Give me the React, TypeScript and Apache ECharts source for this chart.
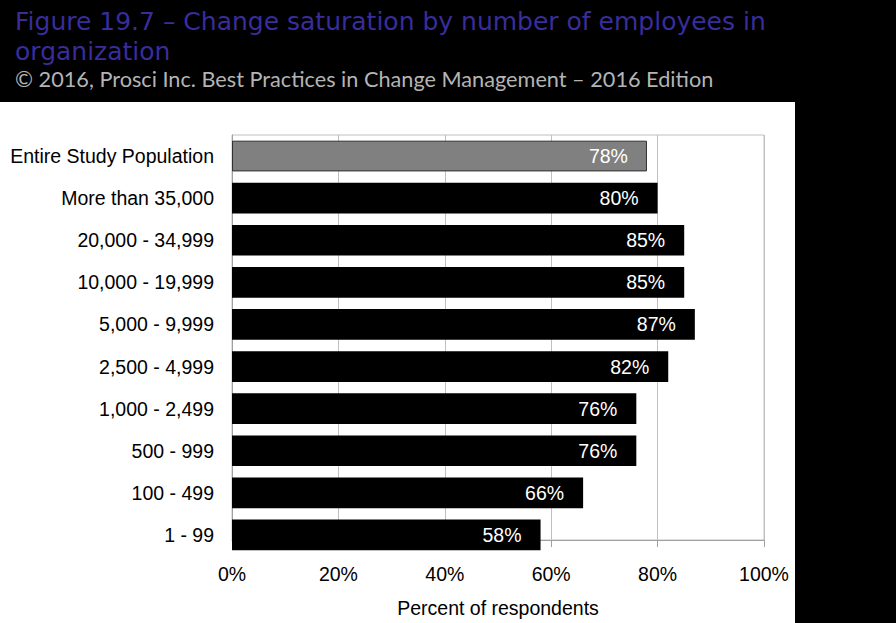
import React, { useEffect, useRef } from "react";
import * as echarts from "echarts";

const categories = [
  "Entire Study Population",
  "More than 35,000",
  "20,000 - 34,999",
  "10,000 - 19,999",
  "5,000 - 9,999",
  "2,500 - 4,999",
  "1,000 - 2,499",
  "500 - 999",
  "100 - 499",
  "1 - 99",
];
const values = [78, 80, 85, 85, 87, 82, 76, 76, 66, 58];
const titleLines = ["Figure 19.7 \u2013 Change saturation by number of employees in", "organization"];
const subtitle = "\u00a9 2016, Prosci Inc. Best Practices in Change Management \u2013 2016 Edition";
const axisName = "Percent of respondents";
const xTicks = { min: 0, max: 100, interval: 20 };

const FONT = "'Liberation Sans', Arial";

export default function App() {
  const ref = useRef<HTMLDivElement>(null);
  useEffect(() => {
    document.body.style.margin = "0";
    const chart = echarts.init(ref.current!, null, { renderer: "svg" });
    chart.setOption({
      animation: false,
      backgroundColor: "#ffffff",
      graphic: [
        { type: "rect", left: 0, top: 0, shape: { width: 896, height: 102 }, style: { fill: "#000" }, z: -1 },
        { type: "rect", left: 795, top: 0, shape: { width: 101, height: 623 }, style: { fill: "#000" }, z: -1 },
        {
          type: "text", left: 15, top: 6,
          style: { text: titleLines.join("\n"), fill: "#392d9c", font: "25px 'DejaVu Sans'", lineHeight: 30 },
        },
        {
          type: "text", left: 15, top: 68,
          style: { text: subtitle, fill: "#b4b4b4", font: "21.7px Lato" },
        },
      ],
      grid: [
        // frame / value axis grid
        { left: 232, right: 132, top: 135, bottom: 73, show: true, borderColor: "#c0c0c0", borderWidth: 1 },
        // bars grid (bands slightly taller, as in the original)
        { left: 232, right: 132, top: 135, bottom: 67 },
      ],
      xAxis: [
        {
          type: "value", gridIndex: 0, ...xTicks,
          axisLabel: { formatter: "{value}%", color: "#000", fontSize: 19.5, fontFamily: FONT, margin: 24 },
          axisLine: { show: true, lineStyle: { color: "#a0a0a0" } },
          axisTick: { show: true, length: 7, lineStyle: { color: "#a0a0a0" } },
          splitLine: { show: true, lineStyle: { color: "#c0c0c0" } },
          name: axisName, nameLocation: "middle", nameGap: 58,
          nameTextStyle: { color: "#000", fontSize: 19.5, fontFamily: FONT },
        },
        {
          type: "value", gridIndex: 1, ...xTicks, show: false,
        },
      ],
      yAxis: [
        {
          type: "category", gridIndex: 0, data: categories, inverse: true,
          axisLine: { show: true, lineStyle: { color: "#a0a0a0" } },
          axisTick: { show: false },
          axisLabel: { show: false },
        },
        {
          type: "category", gridIndex: 1, data: categories, inverse: true,
          axisLine: { show: false },
          axisTick: { show: false },
          splitLine: { show: false },
          axisLabel: { color: "#000", fontSize: 19.5, fontFamily: FONT, margin: 18 },
        },
      ],
      series: [
        {
          type: "bar",
          xAxisIndex: 1, yAxisIndex: 1,
          data: values.map((v, i) => ({
            value: v,
            itemStyle: i === 0
              ? { color: "#808080", borderColor: "#303030", borderWidth: 1 }
              : { color: "#000000" },
          })),
          barCategoryGap: "27%",
          label: {
            show: true, position: "insideRight", distance: 19, formatter: "{c}%",
            color: "#fff", fontSize: 19.5, fontFamily: FONT,
          },
        },
      ],
    });
    return () => chart.dispose();
  }, []);
  return <div ref={ref} style={{ position: "fixed", left: 0, top: 0, width: 896, height: 623 }} />;
}
